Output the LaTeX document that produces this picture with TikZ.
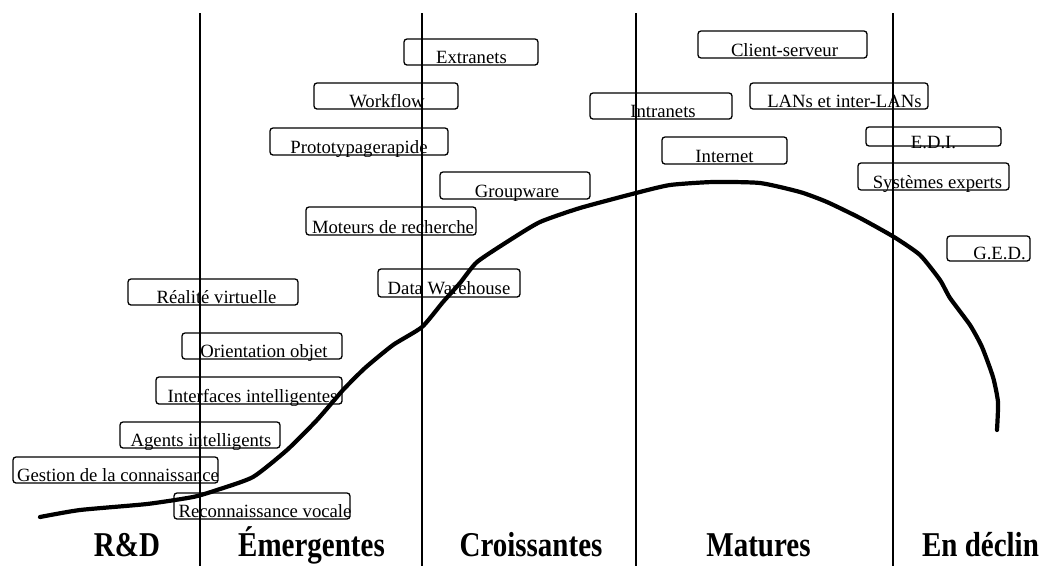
\documentclass[tikz,border=0pt]{standalone}
\usepackage{fontspec}
\usepackage{graphicx}
\setmainfont{Liberation Serif}
\newcommand\tbox[8]{%
  \node[box, minimum width={(#4-#2)*1pt}, minimum height={(#5-#3)*1pt}] (#1) at ({(#2+#4)/2},{(#3+#5)/2}) {};
  \node[lbl] (#1-t) at (#6,#7) {#8};
}
\newcommand\phase[3]{%
  \node[phaselbl] (#1) at (#2,556) {\scalebox{1}[1.2]{#3}};
}
\begin{document}
\begin{tikzpicture}[x=1pt,y=-1pt,
  box/.style={draw, line width=1.3pt, rounded corners=3pt, inner sep=0pt, outer sep=0pt},
  lbl/.style={anchor=base, inner sep=0pt, font=\fontsize{18.7}{22}\selectfont},
  phaselbl/.style={anchor=base, inner sep=0pt, font=\fontsize{29}{34}\selectfont\bfseries},
  divider/.style={line width=1.4pt},
  curve/.style={line width=4.2pt, line join=round, line cap=round}]
\useasboundingbox (0,0) rectangle (1053,566);
\fill[white] (0,0) rectangle (1053,566);

% vertical dividers
\foreach \n/\x in {d1/200,d2/422,d3/636,d4/893}{
  \coordinate (\n-top) at (\x,13);
  \coordinate (\n-bot) at (\x,566);
  \draw[divider] (\n-top) -- (\n-bot);
}

% boxes
\tbox{rv}{128}{279}{298}{305}{216.5}{303}{Réalité virtuelle}
\tbox{oo}{182}{333}{342}{359}{264}{357}{Orientation objet}
\tbox{ii}{156}{377}{342}{404}{252.5}{402}{Interfaces intelligentes}
\tbox{ai}{120}{422}{280}{448}{201}{446}{Agents intelligents}
\tbox{gc}{13}{457}{218}{483}{118}{481}{Gestion de la connaissance}
\tbox{rvo}{174}{493}{350}{519}{265}{517}{Reconnaissance vocale}
\tbox{ex}{404}{39}{538}{65}{471.5}{63}{Extranets}
\tbox{wf}{314}{83}{458}{109}{387}{107}{Workflow}
\tbox{pr}{270}{128}{448}{155}{359}{153}{Prototypagerapide}
\tbox{gw}{440}{172}{590}{199}{517}{197}{Groupware}
\tbox{mr}{306}{207}{476}{235}{393}{233}{Moteurs de recherche}
\tbox{dw}{378}{269}{520}{297}{449}{294}{Data Warehouse}
\tbox{cs}{698}{31}{867}{58}{784.5}{56}{Client-serveur}
\tbox{in}{590}{93}{732}{119}{663}{117}{Intranets}
\tbox{lan}{750}{83}{928}{109}{844.5}{107}{LANs et inter-LANs}
\tbox{it}{662}{137}{787}{164}{724.5}{162}{Internet}
\tbox{edi}{866}{127}{1001}{146}{933.5}{148}{E.D.I.}
\tbox{se}{858}{163}{1009}{190}{937.5}{188}{Systèmes experts}
\tbox{ged}{947}{236}{1030}{261}{999.5}{259}{G.E.D.}

% life-cycle curve
\draw[curve] plot[smooth, tension=0.35] coordinates {
(40,517) (80,510) (147,504) (193,497) (217,490) (253,477) (287,450)
(317,420) (343,390) (365,368) (393,345) (422,327) (443,302) (460,283)
(477,262) (510,240) (540,222) (580,208) (636,193) (670,185) (713,182)
(760,183) (800,192) (827,202) (860,218) (894,237) (920,255) (940,280)
(950,298) (970,325) (982,347) (993,377) (998,402) (997,430)};

% phase labels
\phase{rd}{127}{R\&D}
\phase{em}{311.5}{Émergentes}
\phase{cr}{531}{Croissantes}
\phase{ma}{758.5}{Matures}
\phase{de}{980.5}{En déclin}
\end{tikzpicture}
\end{document}
